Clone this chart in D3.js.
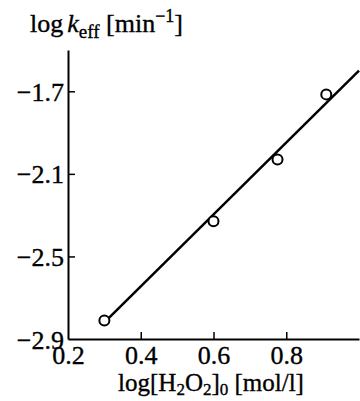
<!DOCTYPE html>
<html>
<head>
<meta charset="utf-8">
<script src="https://cdn.jsdelivr.net/npm/d3@7"></script>
<style>
  body { margin: 0; background: #fff; }
  svg text { font-family: "Liberation Serif", "Times New Roman", serif; fill: #000; stroke: #000; stroke-width: 0.35; }
</style>
</head>
<body>
<div id="chart"></div>
<script>
// measured points: log[H2O2]0 vs log k_eff
const logH2O2 = [0.30, 0.60, 0.776, 0.91];
const logK = [-2.81, -2.33, -2.03, -1.715];
// fitted straight line
const fitX = [0.30, 1.0];
const fitY = [-2.82, -1.60];
const xTicks = [0.2, 0.4, 0.6, 0.8];
const yTicks = [-1.7, -2.1, -2.5, -2.9];

const width = 360;
const height = 401;
const margin = { top: 50, right: 1, bottom: 62, left: 68 };

const svg = d3.select("#chart")
    .append("svg")
    .attr("width", width)
    .attr("height", height);

const x = d3.scaleLinear()
    .domain([0.2, 1.0])
    .range([margin.left, width - margin.right]);

const y = d3.scaleLinear()
    .domain([-2.9, -1.5])
    .range([height - margin.bottom, margin.top]);

// axes: ticks point inward
const xAxis = svg.append("g")
    .attr("transform", `translate(0,${y(-2.9)})`)
    .call(d3.axisBottom(x).tickValues(xTicks).tickSize(-7).tickSizeOuter(0).tickFormat(d3.format(".1f")));

const yAxis = svg.append("g")
    .attr("transform", `translate(${x(0.2)},0)`)
    .call(d3.axisLeft(y).tickValues(yTicks).tickSize(-7).tickSizeOuter(0).tickPadding(4).tickFormat(d => d.toFixed(1).replace("-", "\u2212")));

[xAxis, yAxis].forEach(g => {
    g.select(".domain").attr("stroke", "#000").attr("stroke-width", 2);
    g.selectAll(".tick line").attr("stroke", "#000").attr("stroke-width", 1.5);
    g.selectAll(".tick text")
        .attr("font-family", "Liberation Serif, serif")
        .attr("font-size", 26)
        .attr("fill", "#000");
});
xAxis.selectAll(".tick text").attr("dy", null).attr("y", 25);
yAxis.selectAll(".tick text").attr("dy", "0.35em");
// the corner ticks sit on the other axis
xAxis.selectAll(".tick").filter(d => d === 0.2).select("line").remove();
yAxis.selectAll(".tick").filter(d => d === -2.9).select("line").remove();

// fit line
const line = d3.line()
    .x(d => x(d[0]))
    .y(d => y(d[1]));

svg.append("path")
    .datum(fitX.map((d, i) => [d, fitY[i]]))
    .attr("d", line)
    .attr("fill", "none")
    .attr("stroke", "#000")
    .attr("stroke-width", 2.5);

svg.append("g")
    .selectAll("circle")
    .data(logH2O2)
    .enter().append("circle")
    .attr("cx", d => x(d))
    .attr("cy", (d, i) => y(logK[i]))
    .attr("r", 5)
    .attr("fill", "#fff")
    .attr("stroke", "#000")
    .attr("stroke-width", 2);

// y axis title
const yTitle = svg.append("text")
    .attr("x", 30)
    .attr("y", 32)
    .attr("font-size", 26);
yTitle.append("tspan").text("log");
yTitle.append("tspan").attr("dx", 4).attr("font-style", "italic").text("k");
yTitle.append("tspan").attr("dy", 6).attr("font-size", 19).text("eff");
yTitle.append("tspan").attr("dy", -6).text(" [min");
yTitle.append("tspan").attr("dy", -10).attr("font-size", 18).text("\u22121");
yTitle.append("tspan").attr("dy", 10).text("]");

// x axis title
const xTitle = svg.append("text")
    .attr("x", 211)
    .attr("y", 391)
    .attr("text-anchor", "middle")
    .attr("font-size", 25);
xTitle.append("tspan").text("log[H");
xTitle.append("tspan").attr("dy", 4).attr("font-size", 17).text("2");
xTitle.append("tspan").attr("dy", -4).text("O");
xTitle.append("tspan").attr("dy", 4).attr("font-size", 17).text("2");
xTitle.append("tspan").attr("dy", -4).text("]");
xTitle.append("tspan").attr("dy", 4).attr("font-size", 17).text("0");
xTitle.append("tspan").attr("dy", -4).text(" [mol/l]");
</script>
</body>
</html>
